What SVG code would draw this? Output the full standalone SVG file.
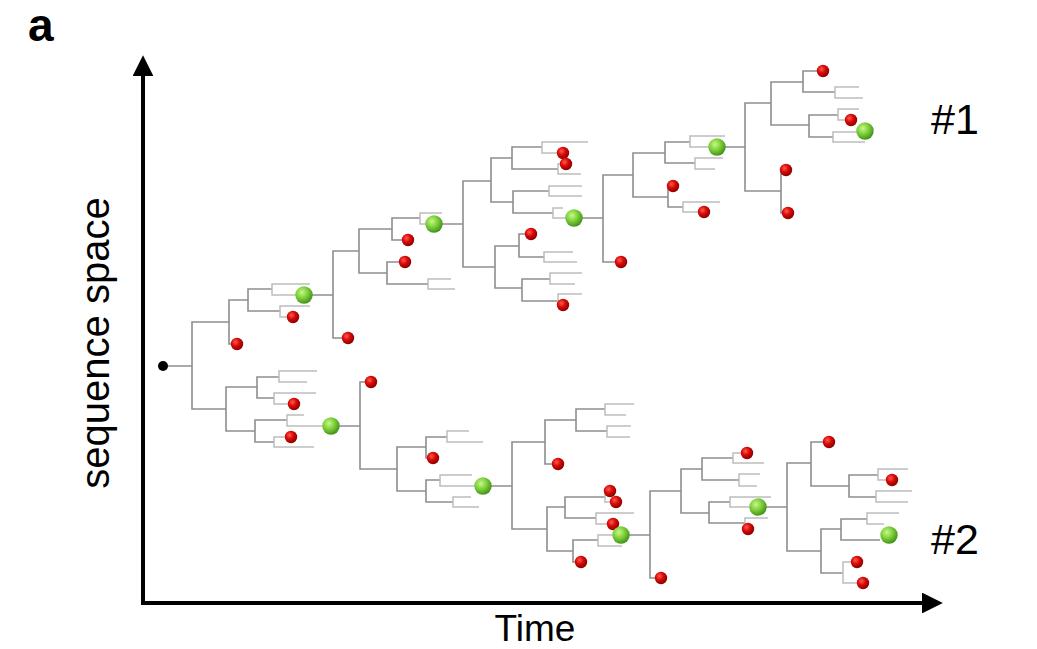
<svg xmlns="http://www.w3.org/2000/svg" width="1037" height="649" viewBox="0 0 1037 649">
<defs>
<radialGradient id="gr" cx="0.38" cy="0.35" r="0.65"><stop offset="0" stop-color="#ff5a4a"/><stop offset="0.5" stop-color="#d80808"/><stop offset="1" stop-color="#8c0000"/></radialGradient>
<radialGradient id="gg" cx="0.38" cy="0.35" r="0.65"><stop offset="0" stop-color="#c8f78a"/><stop offset="0.5" stop-color="#7fd13b"/><stop offset="1" stop-color="#45941a"/></radialGradient>
<marker id="ah" viewBox="0 0 10 10" refX="0" refY="5" markerWidth="7" markerHeight="5.2" markerUnits="strokeWidth" orient="auto"><path d="M0 0 L10 5 L0 10 Z" fill="#000"/></marker>
<circle id="rd" r="6.2" fill="url(#gr)"/>
<circle id="gd" r="8.7" fill="url(#gg)"/>
</defs>
<style>
.b{fill:none;stroke:#8e8e8e;stroke-width:1.6}
.t{fill:none;stroke:#bdbdbd;stroke-width:1.5}
.ax{fill:none;stroke:#000;stroke-width:4}
.lab{font-family:"Liberation Sans",Arial,sans-serif;fill:#000}
</style>
<rect width="1037" height="649" fill="#fff"/>
<g id="axes">
<path class="ax" d="M143 603 V76" marker-end="url(#ah)"/>
<path class="ax" d="M141 603 H922" marker-end="url(#ah)"/>
</g>
<g id="labels">
<text class="lab" x="28" y="41" font-size="46" font-weight="bold">a</text>
<text class="lab" x="931" y="134" font-size="43">#1</text>
<text class="lab" x="931" y="554" font-size="43">#2</text>
<text class="lab" x="535" y="641" font-size="37" text-anchor="middle">Time</text>
<text class="lab" x="0" y="0" font-size="40" text-anchor="middle" transform="translate(109 343) rotate(-90)">sequence space</text>
</g>
<g id="connectors">
<path class="b" d="M163 366 H192 M229 322 H192 V409 H226 M237 344 H229 V300 H248 M272 289 H248 V311 H280 M257 387 H226 V431 H255 M279 377 H257 V398 H274 M287 420 H255 V442 H274"/>
<path class="t" d="M310 284 H272 V295 H304 M310 306 H280 V317 H293 M317 371 H279 V382 H307 M316 393 H274 V404 H294 M304 415 H287 V426 H331 M291 437 H274 V447 H314"/>
<path class="b" d="M304 295 H333 M348 338 H333 V251 H359 M392 229 H359 V273 H387 M420 218 H392 V240 H408 M405 262 H387 V284 H428"/>
<path class="t" d="M442 213 H420 V224 H434 M451 279 H428 V289 H455"/>
<path class="b" d="M434 224 H463 M491 181 H463 V267 H495 M512 158 H491 V202 H513 M542 147 H512 V169 H558 M549 191 H513 V213 H553 M519 246 H495 V288 H522 M531 234 H519 V257 H544 M550 279 H522 V301 H558"/>
<path class="t" d="M588 142 H542 V153 H563 M566 164 H558 V174 H581 M582 186 H549 V196 H582 M563 208 H553 V218 H574 M573 252 H544 V262 H577 M582 273 H550 V284 H575 M582 294 H558 V305 H563"/>
<path class="b" d="M574 218 H603 M633 175 H603 V262 H621 M665 153 H633 V197 H668 M690 142 H665 V163 H695 M673 186 H668 V207 H683"/>
<path class="t" d="M725 136 H690 V147 H717 M723 158 H695 V169 H715 M720 202 H683 V212 H704"/>
<path class="b" d="M717 147 H745 M771 103 H745 V191 H781 M803 82 H771 V125 H809 M823 71 H803 V92 H835 M838 115 H809 V137 H833 M786 170 H781 V213 H788"/>
<path class="t" d="M859 87 H835 V98 H863 M859 109 H838 V120 H851 M865 132 H833 V142 H865"/>
<path class="b" d="M331 426 H360 M371 382 H360 V469 H397 M426 447 H397 V491 H426 M447 437 H426 V458 H433 M440 480 H426 V502 H453"/>
<path class="t" d="M469 431 H447 V442 H483 M472 475 H440 V486 H483 M471 497 H453 V507 H479"/>
<path class="b" d="M483 486 H512 M545 442 H512 V529 H547 M576 420 H545 V464 H558 M605 409 H576 V431 H607 M565 507 H547 V551 H573 M605 497 H565 V518 H596 M598 540 H573 V562 H581"/>
<path class="t" d="M634 404 H605 V415 H626 M631 426 H607 V437 H630 M610 491 H605 V502 H616 M634 513 H596 V524 H613 M621 535 H598 V546 H622"/>
<path class="b" d="M621 535 H650 M681 491 H650 V578 H661 M702 469 H681 V513 H709 M733 458 H702 V480 H739 M730 502 H709 V523 H745"/>
<path class="t" d="M747 453 H733 V463 H764 M760 474 H739 V486 H757 M771 497 H730 V507 H758 M768 518 H745 V529 H748"/>
<path class="b" d="M758 507 H787 M811 463 H787 V551 H821 M829 442 H811 V486 H849 M878 475 H849 V497 H876 M841 529 H821 V573 H843 M867 519 H841 V540 H880"/>
<path class="t" d="M908 469 H878 V480 H892 M912 491 H876 V502 H908 M899 513 H867 V524 H884 M857 562 H843 V583 H863"/>
</g>
<g id="root"><circle cx="163" cy="366" r="5" fill="#000"/></g>
<g id="red-nodes">
<use href="#rd" x="237" y="344"/><use href="#rd" x="293" y="317"/><use href="#rd" x="294" y="404"/><use href="#rd" x="291" y="437"/>
<use href="#rd" x="348" y="338"/><use href="#rd" x="408" y="240"/><use href="#rd" x="405" y="262"/>
<use href="#rd" x="563" y="153"/><use href="#rd" x="566" y="164"/><use href="#rd" x="531" y="234"/><use href="#rd" x="563" y="305"/>
<use href="#rd" x="621" y="262"/><use href="#rd" x="673" y="186"/><use href="#rd" x="704" y="212"/>
<use href="#rd" x="823" y="71"/><use href="#rd" x="851" y="120"/><use href="#rd" x="786" y="170"/><use href="#rd" x="788" y="213"/>
<use href="#rd" x="371" y="382"/><use href="#rd" x="433" y="458"/>
<use href="#rd" x="558" y="464"/><use href="#rd" x="610" y="491"/><use href="#rd" x="616" y="502"/><use href="#rd" x="613" y="524"/><use href="#rd" x="581" y="562"/>
<use href="#rd" x="661" y="578"/><use href="#rd" x="747" y="453"/><use href="#rd" x="748" y="529"/>
<use href="#rd" x="829" y="442"/><use href="#rd" x="892" y="480"/><use href="#rd" x="857" y="562"/><use href="#rd" x="863" y="583"/>
</g>
<g id="green-nodes">
<use href="#gd" x="304" y="295"/><use href="#gd" x="434" y="224"/><use href="#gd" x="574" y="218"/><use href="#gd" x="717" y="147"/><use href="#gd" x="865" y="131"/>
<use href="#gd" x="331" y="426"/><use href="#gd" x="483" y="486"/><use href="#gd" x="621" y="535"/><use href="#gd" x="758" y="507"/><use href="#gd" x="889" y="535"/>
</g>
</svg>
